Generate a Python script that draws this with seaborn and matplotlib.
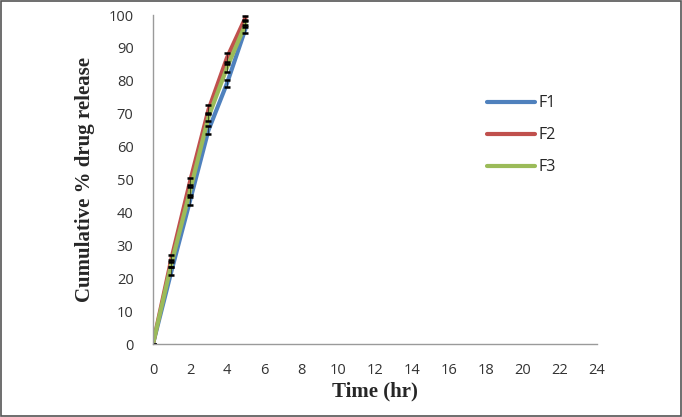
import matplotlib
matplotlib.use("Agg")
import matplotlib.pyplot as plt
import seaborn as sns
import pandas as pd

time_hr = [0, 1, 2, 3, 4, 5]
f1 = [0, 22.2, 43.5, 65.0, 79.2, 95.8]
f2 = [0, 26.0, 49.3, 71.2, 87.0, 99.2]
f3 = [0, 24.5, 46.5, 69.0, 84.0, 97.2]
f1_err = [0, 1.2, 1.3, 1.2, 1.1, 1.3]
f2_err = [0, 1.0, 1.1, 1.3, 1.4, 0.6]
f3_err = [0, 1.1, 1.2, 1.2, 1.2, 0.9]

series = ["F1", "F2", "F3"]
colors = {"F1": "#4F81BD", "F2": "#C0504D", "F3": "#9BBB59"}

df = pd.DataFrame({
    "time": time_hr * 3,
    "release": f1 + f2 + f3,
    "err": f1_err + f2_err + f3_err,
    "formulation": [s for s in series for _ in time_hr],
})

sns.set_style("white")
fig = plt.figure(figsize=(6.82, 4.17), dpi=100)
fig.patches.append(plt.Rectangle((0.001, 0.002), 0.997, 0.996, transform=fig.transFigure,
                                 fill=False, edgecolor="#555555", linewidth=1.2))
ax = fig.add_axes([0.2243, 0.175, 0.651, 0.789])

sns.lineplot(data=df, x="time", y="release", hue="formulation", palette=colors,
             linewidth=3, ax=ax, legend=True)

for s in series:
    sub = df[df["formulation"] == s]
    ax.errorbar(sub["time"], sub["release"], yerr=sub["err"], fmt="none",
                ecolor="black", elinewidth=0.4, capsize=2.2, capthick=1.8)

ax.set_xlim(0, 24)
ax.set_ylim(0, 100)
ax.set_xticks(range(0, 25, 2))
ax.set_yticks(range(0, 101, 10))
for side in ["top", "right"]:
    ax.spines[side].set_visible(False)
for side in ["left", "bottom"]:
    ax.spines[side].set_color("#9a9a9a")
    ax.spines[side].set_linewidth(1)
ax.tick_params(axis="both", direction="out", length=5, width=1, color="#9a9a9a",
               labelsize=10.5, labelcolor="#333333", pad=9)
for lab in ax.get_xticklabels() + ax.get_yticklabels():
    lab.set_family("Open Sans")

ax.set_xlabel("Time (hr)", family="Liberation Serif", fontweight="bold", fontsize=15, labelpad=2)
ax.set_ylabel("Cumulative % drug release", family="Liberation Serif", fontweight="bold",
              fontsize=15, labelpad=10)

leg = ax.legend(loc="upper left", bbox_to_anchor=(0.72, 0.8), frameon=False,
                prop={"family": "Open Sans", "size": 11.5}, handlelength=3.0,
                handletextpad=0.2, labelspacing=1.0)
for line in leg.get_lines():
    line.set_linewidth(3)

fig.savefig("out.png", dpi=100)
